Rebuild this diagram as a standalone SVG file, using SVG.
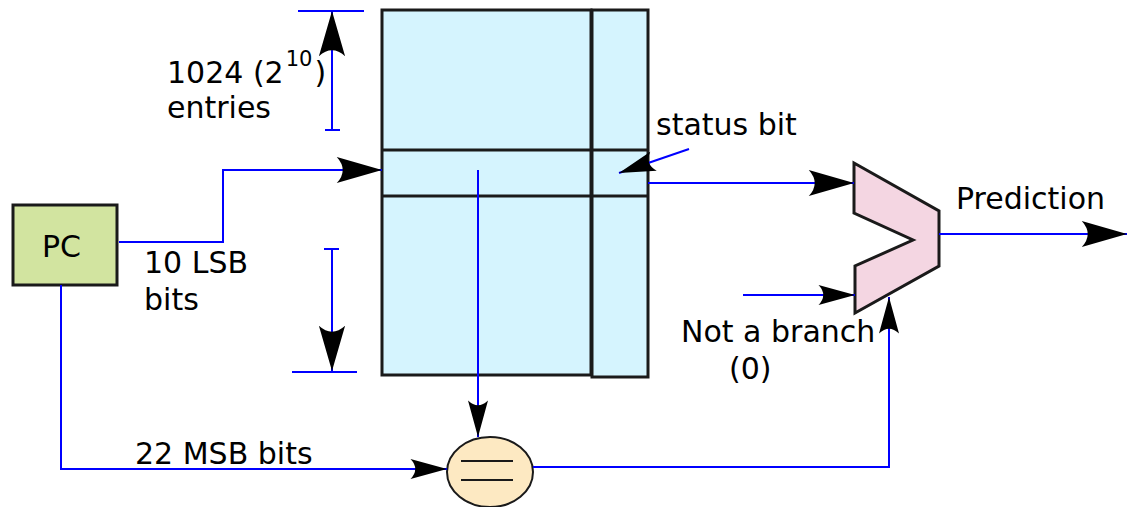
<svg xmlns="http://www.w3.org/2000/svg" width="1127" height="507" viewBox="0 0 1127 507">
<style>
text{font-family:"DejaVu Sans","Liberation Sans",sans-serif;font-size:30px;fill:#000}
.w{fill:none;stroke:#0000ff;stroke-width:2}
.a{marker-end:url(#ah)}
.b{marker-end:url(#ahs)}
.box{stroke:#1a1a1a;stroke-width:3}
</style>
<defs>
<marker id="ah" markerUnits="userSpaceOnUse" orient="auto" markerWidth="50" markerHeight="30" refX="40" refY="12" viewBox="0 0 42 24" overflow="visible">
<path d="M40,12 L2,1 Q12,12 2,23 Z" fill="#000"/>
</marker>
<marker id="ahs" markerUnits="userSpaceOnUse" orient="auto" markerWidth="40" markerHeight="24" refX="32" refY="9" viewBox="0 0 34 18" overflow="visible">
<path d="M32,9 L1,0.5 Q9,9 1,17.5 Z" fill="#000"/>
</marker>
</defs>
<g id="table">
<rect class="box" x="382" y="10" width="209" height="365" fill="#d5f4fe"/>
<rect class="box" x="592" y="10" width="56" height="367" fill="#d5f4fe"/>
<line class="box" x1="382" y1="150" x2="648" y2="150"/>
<line class="box" x1="382" y1="196" x2="648" y2="196"/>
</g>
<g id="pc">
<rect x="13" y="205" width="104" height="80" fill="#d2e4a0" stroke="#1a1a1a" stroke-width="3"/>
<text x="42" y="257">PC</text>
</g>
<g id="comparator">
<polygon points="854,163 939,211 939,266 855,313 855,266 913,240 854,213" fill="#f4d6e2" stroke="#1a1a1a" stroke-width="3" stroke-linejoin="miter"/>
</g>
<g id="equal">
<ellipse cx="490" cy="472" rx="43" ry="35" fill="#fde9c2" stroke="#1a1a1a" stroke-width="2"/>
<line x1="461" y1="461" x2="513" y2="461" stroke="#1a1a1a" stroke-width="2"/>
<line x1="461" y1="480" x2="513" y2="480" stroke="#1a1a1a" stroke-width="2"/>
</g>
<g id="connectors">
<polyline class="w a" points="119,242 223,242 223,170 382,170"/>
<polyline class="w b" points="478,170 478,437"/>
<polyline class="w b" points="61,285 61,469 447,469"/>
<polyline class="w b" points="533,467 889,467 889,297"/>
<polyline class="w a" points="648,183 854,183"/>
<polyline class="w b" points="743,295 855,295"/>
<polyline class="w a" points="939,234 1127,234"/>
<polyline class="w b" points="689,149 619,173"/>
<line class="w" x1="298" y1="11" x2="364" y2="11"/>
<polyline class="w a" points="332,130 332,11"/>
<line class="w" x1="325" y1="130" x2="340" y2="130"/>
<line class="w" x1="324" y1="249" x2="339" y2="249"/>
<polyline class="w a" points="332,249 332,371"/>
<line class="w" x1="292" y1="372" x2="357" y2="372"/>
</g>
<g id="labels">
<text x="167" y="83">1024 (2<tspan font-size="21" dx="2" dy="-17">10</tspan><tspan dx="2" dy="17">)</tspan></text>
<text x="167" y="118">entries</text>
<text x="656" y="135">status bit</text>
<text x="144" y="273">10 LSB</text>
<text x="144" y="310">bits</text>
<text x="956" y="209">Prediction</text>
<text x="681" y="342">Not a branch</text>
<text x="729" y="379">(0)</text>
<text x="135" y="464">22 MSB bits</text>
</g>
</svg>
